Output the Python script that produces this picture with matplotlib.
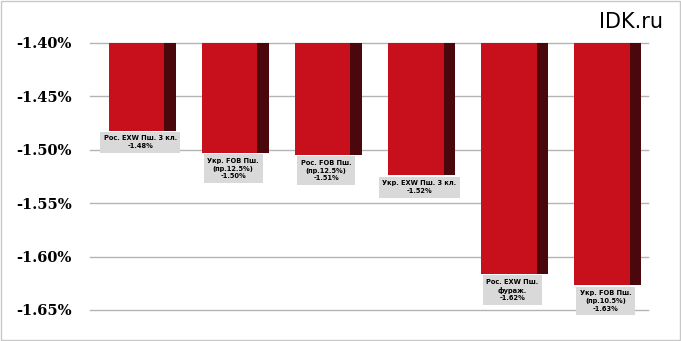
import matplotlib.pyplot as plt
import numpy as np

# Data
labels = ['Рос. EXW Пш. 3 кл.', 'Укр. FOB Пш.\n(пр.12.5%)', 'Рос. FOB Пш.\n(пр.12.5%)',
          'Укр. EXW Пш. 3 кл.', 'Рос. EXW Пш.\nфураж.', 'Укр. FOB Пш.\n(пр.10.5%)']
values = [-1.482, -1.503, -1.505, -1.524, -1.616, -1.627]
value_text = ['-1.48%', '-1.50%', '-1.51%', '-1.52%', '-1.62%', '-1.63%']
yticks = [-1.40, -1.45, -1.50, -1.55, -1.60, -1.65]

base = -1.40
x = np.arange(len(values))

fig = plt.figure(figsize=(6.81, 3.41), dpi=100)
ax = fig.add_axes([0.132, 0.091, 0.82, 0.783])

for yt in yticks:
    ax.axhline(yt, color='#b4b4b4', lw=1, zorder=0, clip_on=False)

heights = [v - base for v in values]
# dark side of the bars, then the red front face
ax.bar(x + 0.12, heights, bottom=base, width=0.6, color='#4a070c', zorder=2)
ax.bar(x, heights, bottom=base, width=0.6, color='#c8101c', zorder=3)

for xi, v, lab, vt in zip(x, values, labels, value_text):
    ax.annotate(lab + '\n' + vt, (xi + 0.04, v), xytext=(0, -3.5), textcoords='offset points',
                ha='center', va='top', fontsize=4.8, fontweight='bold', linespacing=1.35,
                bbox=dict(boxstyle='square,pad=0.55', fc='#d9d9d9', ec='none'), zorder=4)

ax.set_xlim(-0.5, len(values) - 0.5)
ax.set_ylim(-1.65, -1.40)
ax.set_yticks(yticks)
ax.set_yticklabels([f'{t:.2f}%' for t in yticks], fontfamily='DejaVu Serif',
                   fontweight='bold', fontsize=10.5)
ax.tick_params(axis='y', length=0, pad=13)
ax.set_xticks([])
for s in ax.spines.values():
    s.set_visible(False)

fig.text(0.927, 0.935, 'IDK.ru', ha='center', va='center', fontsize=15)
fig.patches.append(plt.Rectangle((0.001, 0.002), 0.997, 0.995, transform=fig.transFigure,
                                 fill=False, ec='#c8c8c8', lw=1))

fig.savefig('out.png', dpi=100)
